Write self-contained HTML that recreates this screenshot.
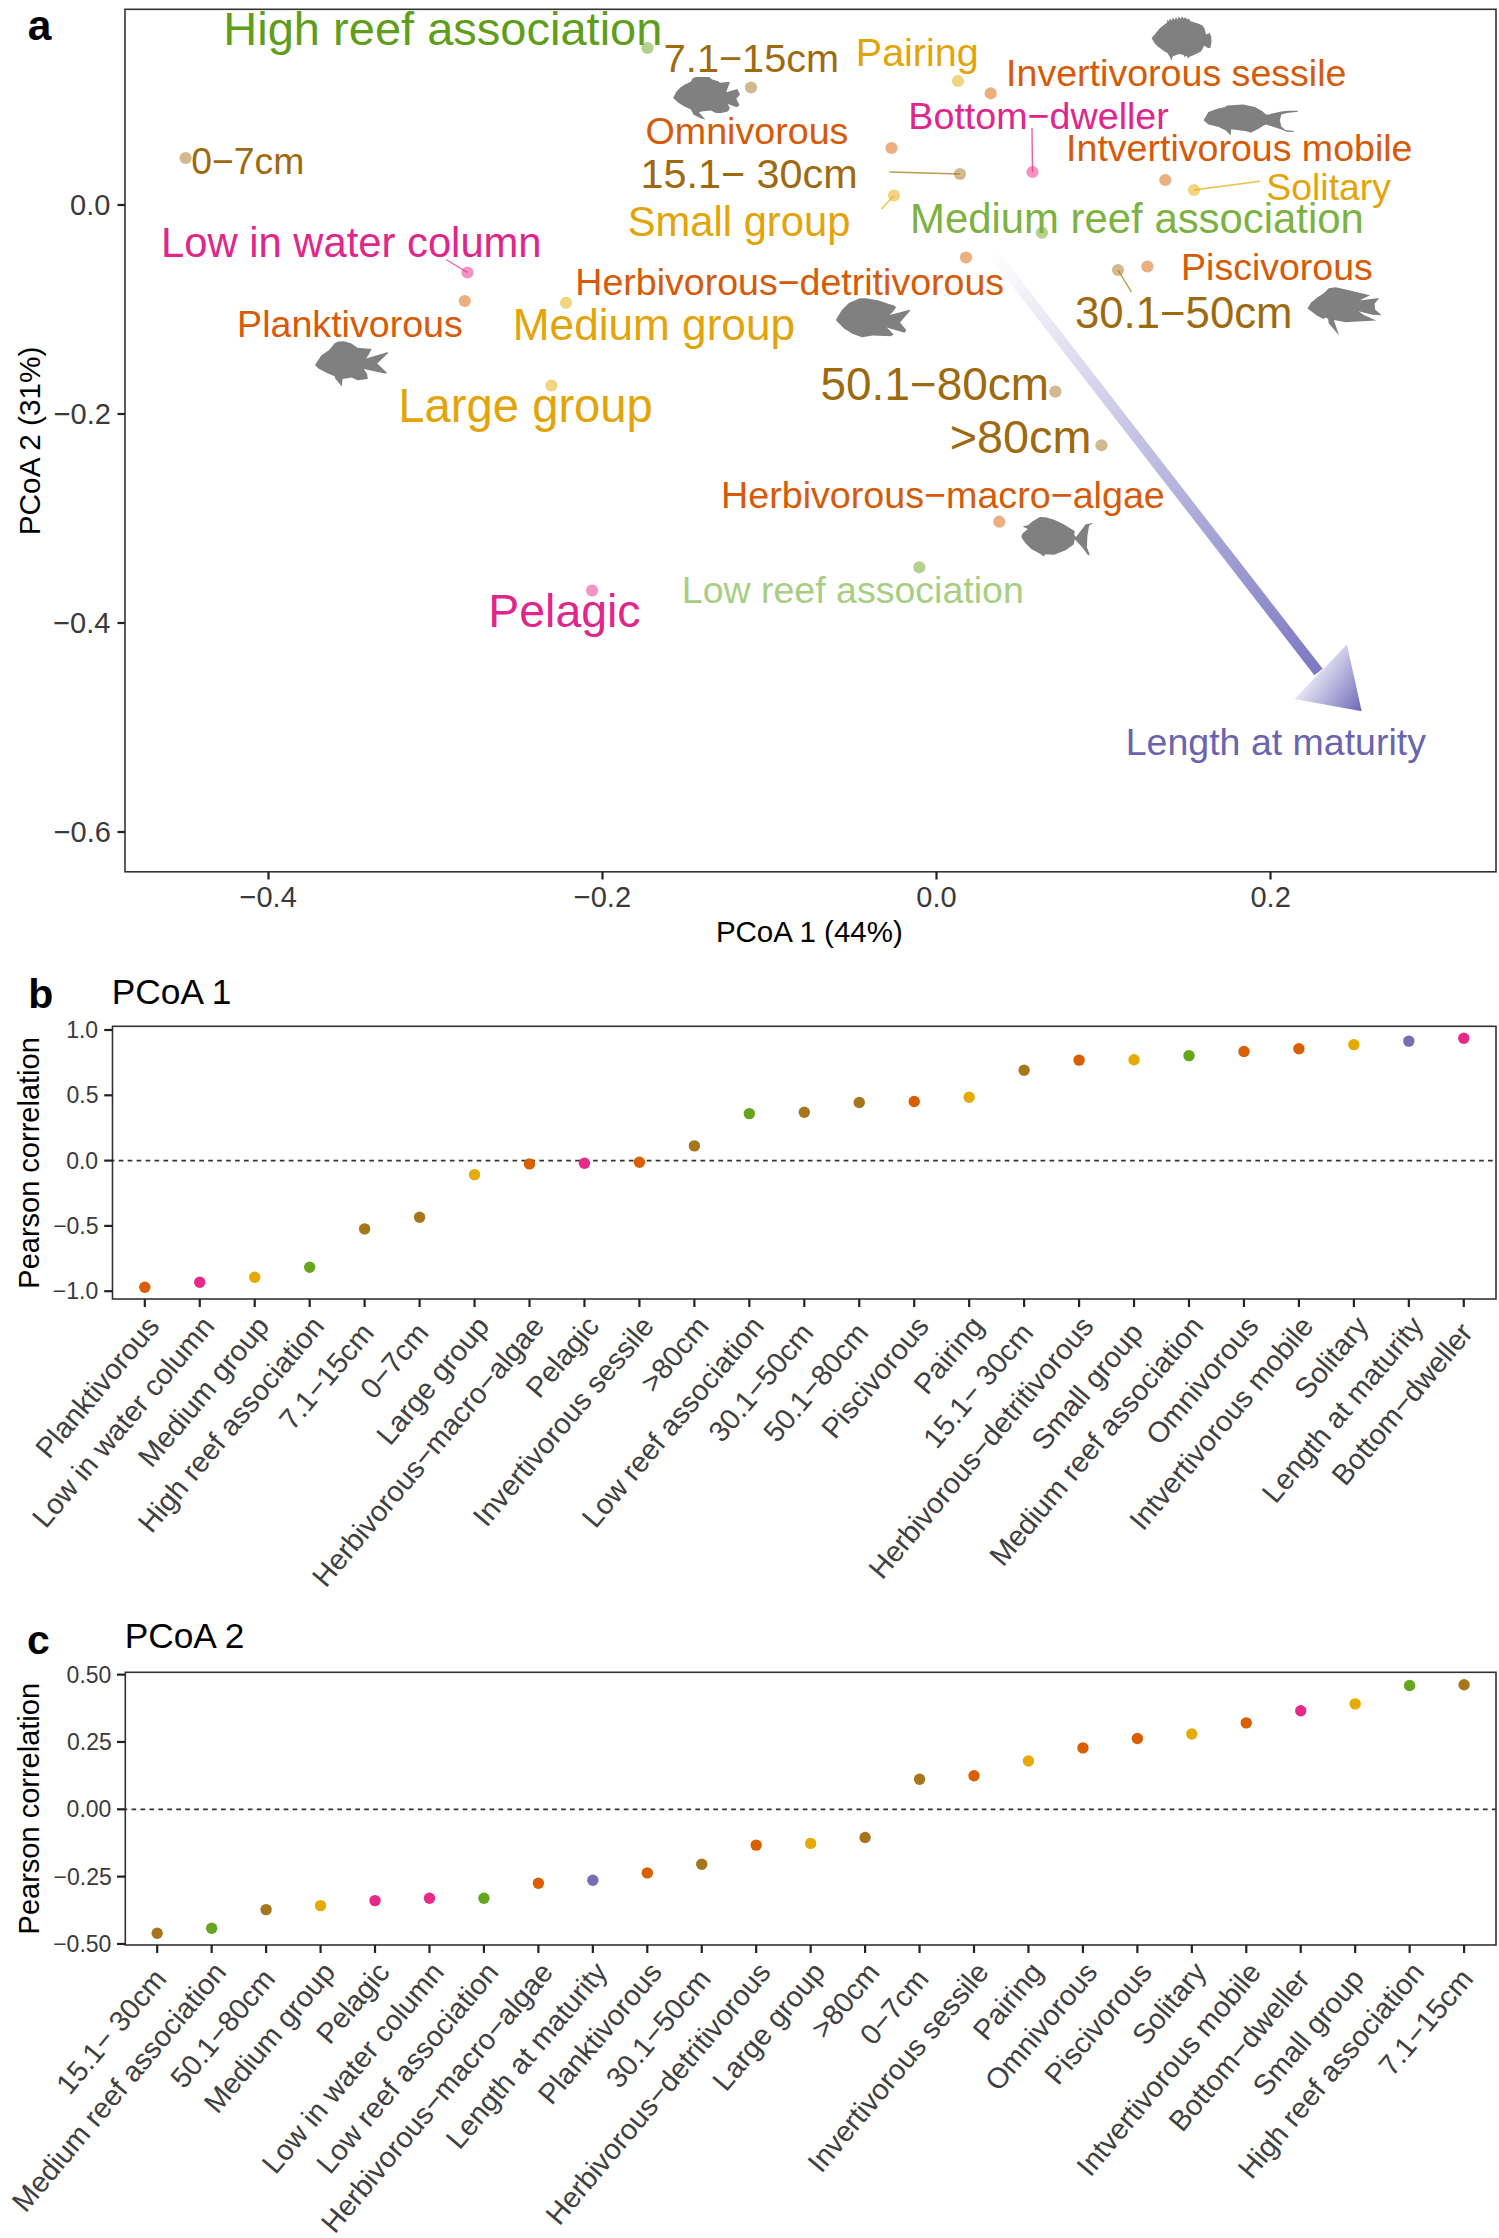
<!DOCTYPE html><html><head><meta charset="utf-8"><style>html,body{margin:0;padding:0;background:#fff;overflow:hidden;}svg{display:block;}text{font-family:"Liberation Sans",sans-serif;}</style></head><body>
<svg width="1499" height="2238" viewBox="0 0 1499 2238">
<rect width="1499" height="2238" fill="#fff"/>
<defs><linearGradient id="shaft" gradientUnits="userSpaceOnUse" x1="992.5" y1="252" x2="1318.5" y2="672"><stop offset="0" stop-color="#7D78C2" stop-opacity="0"/><stop offset="1" stop-color="#7D78C2"/></linearGradient><linearGradient id="head" gradientUnits="userSpaceOnUse" x1="1305" y1="671" x2="1362" y2="711"><stop offset="0" stop-color="#F6F5FB"/><stop offset="1" stop-color="#6C67B8"/></linearGradient></defs>
<rect x="125" y="9.3" width="1371" height="862.5" fill="none" stroke="#333" stroke-width="1.6"/>
<line x1="117.5" y1="205" x2="125" y2="205" stroke="#222" stroke-width="2.2"/>
<text x="70.11" y="215.2" font-size="29" fill="#3a3a3a">0.0</text>
<line x1="117.5" y1="414" x2="125" y2="414" stroke="#222" stroke-width="2.2"/>
<text x="53.63" y="424.2" font-size="29" fill="#3a3a3a">−0.2</text>
<line x1="117.5" y1="623" x2="125" y2="623" stroke="#222" stroke-width="2.2"/>
<text x="53.17" y="633.2" font-size="29" fill="#3a3a3a">−0.4</text>
<line x1="117.5" y1="832" x2="125" y2="832" stroke="#222" stroke-width="2.2"/>
<text x="53.63" y="842.2" font-size="29" fill="#3a3a3a">−0.6</text>
<line x1="268.5" y1="871.8" x2="268.5" y2="879.5" stroke="#222" stroke-width="2.2"/>
<text x="239.56" y="906.6" font-size="29" fill="#3a3a3a">−0.4</text>
<line x1="602.5" y1="871.8" x2="602.5" y2="879.5" stroke="#222" stroke-width="2.2"/>
<text x="573.78" y="906.6" font-size="29" fill="#3a3a3a">−0.2</text>
<line x1="936.5" y1="871.8" x2="936.5" y2="879.5" stroke="#222" stroke-width="2.2"/>
<text x="916.25" y="906.6" font-size="29" fill="#3a3a3a">0.0</text>
<line x1="1270.5" y1="871.8" x2="1270.5" y2="879.5" stroke="#222" stroke-width="2.2"/>
<text x="1250.48" y="906.6" font-size="29" fill="#3a3a3a">0.2</text>
<text x="715.9" y="942" font-size="29.5" fill="#000">PCoA 1 (44%)</text>
<text transform="translate(39.8,535.33) rotate(-90)" font-size="29.8" fill="#000">PCoA 2 (31%)</text>
<text x="27.64" y="39.6" font-size="42.5" fill="#000" font-weight="bold">a</text>
<line x1="992.5" y1="252" x2="1318.5" y2="672" stroke="url(#shaft)" stroke-width="10.5"/>
<polygon points="1346.9,644.4 1294.4,698.9 1361.7,711.3" fill="url(#head)"/>
<line x1="889.5" y1="172" x2="960" y2="174" stroke="#A6761D" stroke-width="1.4" stroke-opacity="0.75"/>
<line x1="894" y1="195.5" x2="881.5" y2="209" stroke="#E6AB02" stroke-width="1.4" stroke-opacity="0.75"/>
<line x1="1032.5" y1="172" x2="1032" y2="128" stroke="#E7298A" stroke-width="1.4" stroke-opacity="0.75"/>
<line x1="1194" y1="190" x2="1260" y2="181.3" stroke="#E6AB02" stroke-width="1.4" stroke-opacity="0.75"/>
<line x1="467.5" y1="272.5" x2="446" y2="259.5" stroke="#E7298A" stroke-width="1.4" stroke-opacity="0.75"/>
<line x1="1118" y1="270" x2="1131.4" y2="291.9" stroke="#A6761D" stroke-width="1.4" stroke-opacity="0.75"/>
<circle cx="647.5" cy="48" r="6.1" fill="#66A61E" fill-opacity="0.5"/>
<circle cx="751" cy="87.5" r="6.1" fill="#A6761D" fill-opacity="0.5"/>
<circle cx="958" cy="81" r="6.1" fill="#E6AB02" fill-opacity="0.5"/>
<circle cx="990.7" cy="93.3" r="6.1" fill="#D95F02" fill-opacity="0.5"/>
<circle cx="891.5" cy="148" r="6.1" fill="#D95F02" fill-opacity="0.5"/>
<circle cx="960" cy="174" r="6.1" fill="#A6761D" fill-opacity="0.5"/>
<circle cx="894" cy="195.5" r="6.1" fill="#E6AB02" fill-opacity="0.5"/>
<circle cx="1032.5" cy="172" r="6.1" fill="#E7298A" fill-opacity="0.5"/>
<circle cx="1165.3" cy="180" r="6.1" fill="#D95F02" fill-opacity="0.5"/>
<circle cx="1194" cy="190" r="6.1" fill="#E6AB02" fill-opacity="0.5"/>
<circle cx="1042" cy="232.7" r="6.1" fill="#66A61E" fill-opacity="0.5"/>
<circle cx="185.6" cy="158" r="6.1" fill="#A6761D" fill-opacity="0.5"/>
<circle cx="467.5" cy="272.5" r="6.1" fill="#E7298A" fill-opacity="0.5"/>
<circle cx="464.8" cy="301" r="6.1" fill="#D95F02" fill-opacity="0.5"/>
<circle cx="566" cy="302.8" r="6.1" fill="#E6AB02" fill-opacity="0.5"/>
<circle cx="966" cy="257.5" r="6.1" fill="#D95F02" fill-opacity="0.5"/>
<circle cx="551.5" cy="385.5" r="6.1" fill="#E6AB02" fill-opacity="0.5"/>
<circle cx="1118" cy="270" r="6.1" fill="#A6761D" fill-opacity="0.5"/>
<circle cx="1147.4" cy="266.5" r="6.1" fill="#D95F02" fill-opacity="0.5"/>
<circle cx="1055.4" cy="391.6" r="6.1" fill="#A6761D" fill-opacity="0.5"/>
<circle cx="1101.5" cy="445.3" r="6.1" fill="#A6761D" fill-opacity="0.5"/>
<circle cx="999.3" cy="521.7" r="6.1" fill="#D95F02" fill-opacity="0.5"/>
<circle cx="919.3" cy="567.3" r="6.1" fill="#66A61E" fill-opacity="0.5"/>
<circle cx="592.1" cy="590.5" r="6.1" fill="#E7298A" fill-opacity="0.5"/>
<path d="M673.1,98.1 L676,92.3 L680.3,87.5 L684.5,84.8 L691,81.6 L692.5,78.4 L695.7,77.1 L709.1,77.1 L712.3,79.5 L717.6,81.1 L720.3,82.7 L726.7,82.1 L729.9,81.9 L726.2,92.3 L737.4,89.1 L740,94.4 L736.3,98.7 L739.5,105.1 L736.8,107.2 L727.8,104 L729.9,108.3 L727.8,111.5 L721.4,113.1 L716,113.1 L710.7,110.4 L701.1,111.5 L699,112.6 L705.4,119.5 L701.1,118.4 L693.6,114.7 L690.9,109.4 L684,106.2 L678.7,103Z" fill="#808080"/>
<path d="M1151.6,38.3 L1155,34 L1159.6,28.6 L1163.5,25.2 L1166.9,22.7 L1167.5,19.5 L1168.8,21.6 L1170,18.2 L1171.5,20.8 L1173,17.5 L1174.5,20 L1176,17.2 L1177.5,19.5 L1179,16.6 L1180.5,19 L1182,16.3 L1183.5,18.5 L1185.5,17.3 L1187,19.6 L1188.8,18.5 L1190.5,21.2 L1194,22.2 L1198.6,23.7 L1202.5,25.6 L1204.5,28.5 L1205.4,31.5 L1205.9,34.4 L1209.8,33 L1211.2,36.4 L1211.5,42.2 L1210.3,48 L1207.8,48 L1204.4,45.6 L1201,51.5 L1196.1,53.9 L1192.2,55.8 L1190,56.5 L1187.9,58.3 L1186.5,55.6 L1184.9,57.2 L1183.5,54.9 L1179.1,53.9 L1172.8,56.3 L1171.3,60.7 L1170.2,57.5 L1167.4,52.9 L1164,51 L1161.1,49 L1157.5,46.2 L1154.7,43.2Z" fill="#808080"/>
<path d="M1203.6,120.2 L1208.4,111.9 L1217.4,108.8 L1225.1,107 L1227.1,105.6 L1243.1,104.6 L1254.9,107 L1262.5,111.2 L1265.3,114 L1267.4,114.7 L1281.3,111.5 L1288.2,110.8 L1297.9,110.8 L1297.9,111.8 L1287,113 L1281.3,114.5 L1279.9,120.2 L1281.3,126.5 L1285.4,129.9 L1293.8,131 L1293.8,132 L1286.8,131.8 L1281.3,129.6 L1266,124.4 L1263.2,125.8 L1259.1,128.5 L1250.7,132.7 L1246.6,131.3 L1231.3,129.2 L1230.6,135.5 L1225.8,130.6 L1218.8,127.1 L1208.4,124.4Z" fill="#808080"/>
<path d="M315,365.1 L321.2,355.6 L329.1,350 L334.7,343.3 L338,341.6 L343.6,341.3 L350.9,343.3 L357.6,347.8 L371.6,348.9 L368.8,354.5 L366,358.4 L387.3,352.3 L388.5,352.8 L377.2,363.5 L387.3,373 L384.5,373.5 L363.8,369.1 L367.2,374.1 L367.7,379.1 L357.6,380.3 L351.5,377.5 L342.5,379.1 L341.9,386.4 L335.2,378.6 L334.7,376.3 L326.8,373 L318.4,368.5Z" fill="#808080"/>
<path d="M836.3,319 L841.5,310.4 L848.9,302.9 L859.8,298.3 L865.6,298.3 L878.8,300.6 L887.4,303.5 L894.8,305.8 L896,307.5 L893.1,311.5 L889.7,315 L909.8,309.8 L910.3,310.4 L900,322.4 L906.3,329.9 L904.6,332.7 L886.8,327.6 L893.7,334.5 L890.8,336.2 L873,335.6 L862.1,337.3 L852.9,333.9 L844.3,328.7 L836.3,320.7Z" fill="#808080"/>
<path d="M1307.5,308.4 L1310.9,302.7 L1317.2,297.5 L1324.1,292.9 L1328.7,288.3 L1335.6,287.2 L1345.9,289.5 L1357.4,292.3 L1370,295.2 L1359.7,300.4 L1368.8,299.2 L1379.2,298.1 L1374.6,303.8 L1375.2,309.5 L1381.5,315.3 L1372.3,314.7 L1358.5,311.3 L1364.3,315.3 L1376.3,320.4 L1357.4,321.6 L1345.9,322.2 L1333.9,319.9 L1339,335.4 L1328.7,323.3 L1328.1,318.7 L1324.7,317.6 L1324.1,319.3 L1317.2,315.8Z" fill="#808080"/>
<path d="M1021.5,537.5 L1022,534.1 L1027.8,528.9 L1022.6,526.6 L1027.8,525.2 L1032.4,521.5 L1039.8,516.9 L1045.6,517.2 L1054.2,519.8 L1062.8,523.8 L1071.4,528.9 L1074.8,531.2 L1074.2,534.7 L1076,537 L1085.7,524.3 L1093.7,522.9 L1089.2,525.5 L1087.4,535.8 L1086.9,547.3 L1089.7,554.8 L1088,555.3 L1082.8,547.9 L1074.8,539.3 L1073.7,544.4 L1065.6,550.2 L1054.2,554.8 L1045.6,554.2 L1043.3,556.5 L1041,554.2 L1031.2,549 L1025.5,543.3Z" fill="#808080"/>
<text x="223.33" y="44.7" font-size="47.02" fill="#5E9E1A">High reef association</text>
<text x="663.84" y="72" font-size="39.65" fill="#9E6A10">7.1−15cm</text>
<text x="855.82" y="65.5" font-size="39.48" fill="#E3A40A">Pairing</text>
<text x="1006.06" y="86.3" font-size="37.58" fill="#D65A08">Invertivorous sessile</text>
<text x="908.36" y="129.3" font-size="37.65" fill="#E0268A">Bottom−dweller</text>
<text x="645.54" y="144.4" font-size="37.65" fill="#D65A08">Omnivorous</text>
<text x="1066.07" y="161" font-size="37.55" fill="#D65A08">Intvertivorous mobile</text>
<text x="191.23" y="174" font-size="37.37" fill="#9E6A10">0−7cm</text>
<text x="640.41" y="188.3" font-size="41.39" fill="#9E6A10">15.1− 30cm</text>
<text x="1266.33" y="200" font-size="37.39" fill="#E3A40A">Solitary</text>
<text x="627.7" y="235.8" font-size="41.74" fill="#E3A40A">Small group</text>
<text x="910.03" y="233.3" font-size="41.89" fill="#7DB242">Medium reef association</text>
<text x="161.04" y="257.3" font-size="41.76" fill="#E0268A">Low in water column</text>
<text x="575.37" y="294.7" font-size="37.54" fill="#D65A08">Herbivorous−detritivorous</text>
<text x="1181.07" y="280.3" font-size="37.51" fill="#D65A08">Piscivorous</text>
<text x="237.06" y="337.3" font-size="37.62" fill="#D65A08">Planktivorous</text>
<text x="512.85" y="339.5" font-size="44.15" fill="#E3A40A">Medium group</text>
<text x="1074.93" y="328.3" font-size="43.74" fill="#9E6A10">30.1−50cm</text>
<text x="820.57" y="399.6" font-size="45.91" fill="#9E6A10">50.1−80cm</text>
<text x="398.31" y="421.7" font-size="47.21" fill="#E3A40A">Large group</text>
<text x="949.81" y="452.8" font-size="46.75" fill="#9E6A10">&gt;80cm</text>
<text x="721.06" y="508" font-size="37.66" fill="#D65A08">Herbivorous−macro−algae</text>
<text x="681.77" y="603.3" font-size="37.52" fill="#A8CE84">Low reef association</text>
<text x="488.27" y="627.1" font-size="46.45" fill="#E0268A">Pelagic</text>
<text x="1125.77" y="754.7" font-size="37.51" fill="#6A63B0">Length at maturity</text>
<rect x="112.5" y="1026.3" width="1383.5" height="272.7" fill="none" stroke="#333" stroke-width="1.6"/>
<line x1="112.5" y1="1160.6" x2="1496" y2="1160.6" stroke="#333" stroke-width="1.7" stroke-dasharray="4.7 4.25" stroke-dashoffset="2.75"/>
<line x1="104.2" y1="1030" x2="112.5" y2="1030" stroke="#222" stroke-width="2.2"/>
<text x="66.2" y="1037.9" font-size="23" fill="#3a3a3a">1.0</text>
<line x1="104.2" y1="1095.3" x2="112.5" y2="1095.3" stroke="#222" stroke-width="2.2"/>
<text x="66.56" y="1103.2" font-size="23" fill="#3a3a3a">0.5</text>
<line x1="104.2" y1="1160.6" x2="112.5" y2="1160.6" stroke="#222" stroke-width="2.2"/>
<text x="66.2" y="1168.5" font-size="23" fill="#3a3a3a">0.0</text>
<line x1="104.2" y1="1225.9" x2="112.5" y2="1225.9" stroke="#222" stroke-width="2.2"/>
<text x="53.13" y="1233.8" font-size="23" fill="#3a3a3a">−0.5</text>
<line x1="104.2" y1="1291.2" x2="112.5" y2="1291.2" stroke="#222" stroke-width="2.2"/>
<text x="52.77" y="1299.1" font-size="23" fill="#3a3a3a">−1.0</text>
<text transform="translate(39.3,1288.7) rotate(-90)" font-size="29" fill="#000">Pearson correlation</text>
<text x="28.24" y="1007.7" font-size="41" fill="#000" font-weight="bold">b</text>
<text x="111.74" y="1003.6" font-size="35.3" fill="#000">PCoA 1</text>
<line x1="144.8" y1="1299" x2="144.8" y2="1307" stroke="#222" stroke-width="2.2"/>
<circle cx="144.8" cy="1287.3" r="5.7" fill="#D95F02"/>
<text transform="translate(160.8,1327) rotate(-50)" font-size="29" fill="#404040" text-anchor="end">Planktivorous</text>
<line x1="199.76" y1="1299" x2="199.76" y2="1307" stroke="#222" stroke-width="2.2"/>
<circle cx="199.76" cy="1282.3" r="5.7" fill="#E7298A"/>
<text transform="translate(215.76,1327) rotate(-50)" font-size="29" fill="#404040" text-anchor="end">Low in water column</text>
<line x1="254.72" y1="1299" x2="254.72" y2="1307" stroke="#222" stroke-width="2.2"/>
<circle cx="254.72" cy="1277.3" r="5.7" fill="#E6AB02"/>
<text transform="translate(270.72,1327) rotate(-50)" font-size="29" fill="#404040" text-anchor="end">Medium group</text>
<line x1="309.67" y1="1299" x2="309.67" y2="1307" stroke="#222" stroke-width="2.2"/>
<circle cx="309.67" cy="1267.3" r="5.7" fill="#66A61E"/>
<text transform="translate(325.67,1327) rotate(-50)" font-size="29" fill="#404040" text-anchor="end">High reef association</text>
<line x1="364.63" y1="1299" x2="364.63" y2="1307" stroke="#222" stroke-width="2.2"/>
<circle cx="364.63" cy="1228.8999999999999" r="5.7" fill="#A6761D"/>
<text transform="translate(375.17,1333.51) rotate(-50)" font-size="29" fill="#404040" text-anchor="end">7.1−15cm</text>
<line x1="419.59" y1="1299" x2="419.59" y2="1307" stroke="#222" stroke-width="2.2"/>
<circle cx="419.59" cy="1217.3" r="5.7" fill="#A6761D"/>
<text transform="translate(430.13,1333.51) rotate(-50)" font-size="29" fill="#404040" text-anchor="end">0−7cm</text>
<line x1="474.55" y1="1299" x2="474.55" y2="1307" stroke="#222" stroke-width="2.2"/>
<circle cx="474.55" cy="1174.6" r="5.7" fill="#E6AB02"/>
<text transform="translate(490.55,1327) rotate(-50)" font-size="29" fill="#404040" text-anchor="end">Large group</text>
<line x1="529.51" y1="1299" x2="529.51" y2="1307" stroke="#222" stroke-width="2.2"/>
<circle cx="529.51" cy="1163.8999999999999" r="5.7" fill="#D95F02"/>
<text transform="translate(545.51,1327) rotate(-50)" font-size="29" fill="#404040" text-anchor="end">Herbivorous−macro−algae</text>
<line x1="584.46" y1="1299" x2="584.46" y2="1307" stroke="#222" stroke-width="2.2"/>
<circle cx="584.46" cy="1163.1999999999998" r="5.7" fill="#E7298A"/>
<text transform="translate(600.46,1327) rotate(-50)" font-size="29" fill="#404040" text-anchor="end">Pelagic</text>
<line x1="639.42" y1="1299" x2="639.42" y2="1307" stroke="#222" stroke-width="2.2"/>
<circle cx="639.42" cy="1162.1999999999998" r="5.7" fill="#D95F02"/>
<text transform="translate(655.42,1327) rotate(-50)" font-size="29" fill="#404040" text-anchor="end">Invertivorous sessile</text>
<line x1="694.38" y1="1299" x2="694.38" y2="1307" stroke="#222" stroke-width="2.2"/>
<circle cx="694.38" cy="1145.8999999999999" r="5.7" fill="#A6761D"/>
<text transform="translate(710.38,1327) rotate(-50)" font-size="29" fill="#404040" text-anchor="end">&gt;80cm</text>
<line x1="749.34" y1="1299" x2="749.34" y2="1307" stroke="#222" stroke-width="2.2"/>
<circle cx="749.34" cy="1113.6" r="5.7" fill="#66A61E"/>
<text transform="translate(765.34,1327) rotate(-50)" font-size="29" fill="#404040" text-anchor="end">Low reef association</text>
<line x1="804.3" y1="1299" x2="804.3" y2="1307" stroke="#222" stroke-width="2.2"/>
<circle cx="804.3" cy="1112.1999999999998" r="5.7" fill="#A6761D"/>
<text transform="translate(814.83,1333.51) rotate(-50)" font-size="29" fill="#404040" text-anchor="end">30.1−50cm</text>
<line x1="859.25" y1="1299" x2="859.25" y2="1307" stroke="#222" stroke-width="2.2"/>
<circle cx="859.25" cy="1102.5" r="5.7" fill="#A6761D"/>
<text transform="translate(869.79,1333.51) rotate(-50)" font-size="29" fill="#404040" text-anchor="end">50.1−80cm</text>
<line x1="914.21" y1="1299" x2="914.21" y2="1307" stroke="#222" stroke-width="2.2"/>
<circle cx="914.21" cy="1101.5" r="5.7" fill="#D95F02"/>
<text transform="translate(930.21,1327) rotate(-50)" font-size="29" fill="#404040" text-anchor="end">Piscivorous</text>
<line x1="969.17" y1="1299" x2="969.17" y2="1307" stroke="#222" stroke-width="2.2"/>
<circle cx="969.17" cy="1097.3" r="5.7" fill="#E6AB02"/>
<text transform="translate(985.17,1327) rotate(-50)" font-size="29" fill="#404040" text-anchor="end">Pairing</text>
<line x1="1024.13" y1="1299" x2="1024.13" y2="1307" stroke="#222" stroke-width="2.2"/>
<circle cx="1024.13" cy="1070.1999999999998" r="5.7" fill="#A6761D"/>
<text transform="translate(1034.66,1333.51) rotate(-50)" font-size="29" fill="#404040" text-anchor="end">15.1− 30cm</text>
<line x1="1079.09" y1="1299" x2="1079.09" y2="1307" stroke="#222" stroke-width="2.2"/>
<circle cx="1079.09" cy="1060.1" r="5.7" fill="#D95F02"/>
<text transform="translate(1095.09,1327) rotate(-50)" font-size="29" fill="#404040" text-anchor="end">Herbivorous−detritivorous</text>
<line x1="1134.04" y1="1299" x2="1134.04" y2="1307" stroke="#222" stroke-width="2.2"/>
<circle cx="1134.04" cy="1059.8" r="5.7" fill="#E6AB02"/>
<text transform="translate(1144.58,1333.51) rotate(-50)" font-size="29" fill="#404040" text-anchor="end">Small group</text>
<line x1="1189" y1="1299" x2="1189" y2="1307" stroke="#222" stroke-width="2.2"/>
<circle cx="1189" cy="1055.6" r="5.7" fill="#66A61E"/>
<text transform="translate(1205,1327) rotate(-50)" font-size="29" fill="#404040" text-anchor="end">Medium reef association</text>
<line x1="1243.96" y1="1299" x2="1243.96" y2="1307" stroke="#222" stroke-width="2.2"/>
<circle cx="1243.96" cy="1051.5" r="5.7" fill="#D95F02"/>
<text transform="translate(1259.96,1327) rotate(-50)" font-size="29" fill="#404040" text-anchor="end">Omnivorous</text>
<line x1="1298.92" y1="1299" x2="1298.92" y2="1307" stroke="#222" stroke-width="2.2"/>
<circle cx="1298.92" cy="1048.6999999999998" r="5.7" fill="#D95F02"/>
<text transform="translate(1314.92,1327) rotate(-50)" font-size="29" fill="#404040" text-anchor="end">Intvertivorous mobile</text>
<line x1="1353.88" y1="1299" x2="1353.88" y2="1307" stroke="#222" stroke-width="2.2"/>
<circle cx="1353.88" cy="1044.6" r="5.7" fill="#E6AB02"/>
<text transform="translate(1369.88,1327) rotate(-50)" font-size="29" fill="#404040" text-anchor="end">Solitary</text>
<line x1="1408.83" y1="1299" x2="1408.83" y2="1307" stroke="#222" stroke-width="2.2"/>
<circle cx="1408.83" cy="1041.1" r="5.7" fill="#7570B3"/>
<text transform="translate(1424.83,1327) rotate(-50)" font-size="29" fill="#404040" text-anchor="end">Length at maturity</text>
<line x1="1463.79" y1="1299" x2="1463.79" y2="1307" stroke="#222" stroke-width="2.2"/>
<circle cx="1463.79" cy="1038.3" r="5.7" fill="#E7298A"/>
<text transform="translate(1474.33,1333.51) rotate(-50)" font-size="29" fill="#404040" text-anchor="end">Bottom−dweller</text>
<rect x="125.3" y="1672.3" width="1370.7" height="272.7" fill="none" stroke="#333" stroke-width="1.6"/>
<line x1="125.3" y1="1809.3" x2="1496" y2="1809.3" stroke="#333" stroke-width="1.7" stroke-dasharray="4.7 4.25" stroke-dashoffset="2.75"/>
<line x1="117" y1="1674.65" x2="125.3" y2="1674.65" stroke="#222" stroke-width="2.2"/>
<text x="66.61" y="1682.55" font-size="23" fill="#3a3a3a">0.50</text>
<line x1="117" y1="1741.97" x2="125.3" y2="1741.97" stroke="#222" stroke-width="2.2"/>
<text x="66.97" y="1749.88" font-size="23" fill="#3a3a3a">0.25</text>
<line x1="117" y1="1809.3" x2="125.3" y2="1809.3" stroke="#222" stroke-width="2.2"/>
<text x="66.61" y="1817.2" font-size="23" fill="#3a3a3a">0.00</text>
<line x1="117" y1="1876.62" x2="125.3" y2="1876.62" stroke="#222" stroke-width="2.2"/>
<text x="53.54" y="1884.53" font-size="23" fill="#3a3a3a">−0.25</text>
<line x1="117" y1="1943.95" x2="125.3" y2="1943.95" stroke="#222" stroke-width="2.2"/>
<text x="53.18" y="1951.85" font-size="23" fill="#3a3a3a">−0.50</text>
<text transform="translate(39.3,1934.4) rotate(-90)" font-size="29" fill="#000">Pearson correlation</text>
<text x="27.02" y="1654.1" font-size="41" fill="#000" font-weight="bold">c</text>
<text x="124.64" y="1648.4" font-size="35.3" fill="#000">PCoA 2</text>
<line x1="157.2" y1="1945" x2="157.2" y2="1953" stroke="#222" stroke-width="2.2"/>
<circle cx="157.2" cy="1933.3" r="5.7" fill="#A6761D"/>
<text transform="translate(167.74,1979.51) rotate(-50)" font-size="29" fill="#404040" text-anchor="end">15.1− 30cm</text>
<line x1="211.65" y1="1945" x2="211.65" y2="1953" stroke="#222" stroke-width="2.2"/>
<circle cx="211.65" cy="1928.3" r="5.7" fill="#66A61E"/>
<text transform="translate(227.65,1973) rotate(-50)" font-size="29" fill="#404040" text-anchor="end">Medium reef association</text>
<line x1="266.11" y1="1945" x2="266.11" y2="1953" stroke="#222" stroke-width="2.2"/>
<circle cx="266.11" cy="1909.6" r="5.7" fill="#A6761D"/>
<text transform="translate(276.64,1979.51) rotate(-50)" font-size="29" fill="#404040" text-anchor="end">50.1−80cm</text>
<line x1="320.56" y1="1945" x2="320.56" y2="1953" stroke="#222" stroke-width="2.2"/>
<circle cx="320.56" cy="1905.6" r="5.7" fill="#E6AB02"/>
<text transform="translate(336.56,1973) rotate(-50)" font-size="29" fill="#404040" text-anchor="end">Medium group</text>
<line x1="375.02" y1="1945" x2="375.02" y2="1953" stroke="#222" stroke-width="2.2"/>
<circle cx="375.02" cy="1900.6" r="5.7" fill="#E7298A"/>
<text transform="translate(391.02,1973) rotate(-50)" font-size="29" fill="#404040" text-anchor="end">Pelagic</text>
<line x1="429.47" y1="1945" x2="429.47" y2="1953" stroke="#222" stroke-width="2.2"/>
<circle cx="429.47" cy="1898.3" r="5.7" fill="#E7298A"/>
<text transform="translate(445.47,1973) rotate(-50)" font-size="29" fill="#404040" text-anchor="end">Low in water column</text>
<line x1="483.92" y1="1945" x2="483.92" y2="1953" stroke="#222" stroke-width="2.2"/>
<circle cx="483.92" cy="1898.1999999999998" r="5.7" fill="#66A61E"/>
<text transform="translate(499.92,1973) rotate(-50)" font-size="29" fill="#404040" text-anchor="end">Low reef association</text>
<line x1="538.38" y1="1945" x2="538.38" y2="1953" stroke="#222" stroke-width="2.2"/>
<circle cx="538.38" cy="1883.3" r="5.7" fill="#D95F02"/>
<text transform="translate(554.38,1973) rotate(-50)" font-size="29" fill="#404040" text-anchor="end">Herbivorous−macro−algae</text>
<line x1="592.83" y1="1945" x2="592.83" y2="1953" stroke="#222" stroke-width="2.2"/>
<circle cx="592.83" cy="1880.1999999999998" r="5.7" fill="#7570B3"/>
<text transform="translate(608.83,1973) rotate(-50)" font-size="29" fill="#404040" text-anchor="end">Length at maturity</text>
<line x1="647.29" y1="1945" x2="647.29" y2="1953" stroke="#222" stroke-width="2.2"/>
<circle cx="647.29" cy="1872.8999999999999" r="5.7" fill="#D95F02"/>
<text transform="translate(663.29,1973) rotate(-50)" font-size="29" fill="#404040" text-anchor="end">Planktivorous</text>
<line x1="701.74" y1="1945" x2="701.74" y2="1953" stroke="#222" stroke-width="2.2"/>
<circle cx="701.74" cy="1864.1999999999998" r="5.7" fill="#A6761D"/>
<text transform="translate(712.28,1979.51) rotate(-50)" font-size="29" fill="#404040" text-anchor="end">30.1−50cm</text>
<line x1="756.19" y1="1945" x2="756.19" y2="1953" stroke="#222" stroke-width="2.2"/>
<circle cx="756.19" cy="1845.1" r="5.7" fill="#D95F02"/>
<text transform="translate(772.19,1973) rotate(-50)" font-size="29" fill="#404040" text-anchor="end">Herbivorous−detritivorous</text>
<line x1="810.65" y1="1945" x2="810.65" y2="1953" stroke="#222" stroke-width="2.2"/>
<circle cx="810.65" cy="1843.3999999999999" r="5.7" fill="#E6AB02"/>
<text transform="translate(826.65,1973) rotate(-50)" font-size="29" fill="#404040" text-anchor="end">Large group</text>
<line x1="865.1" y1="1945" x2="865.1" y2="1953" stroke="#222" stroke-width="2.2"/>
<circle cx="865.1" cy="1837.5" r="5.7" fill="#A6761D"/>
<text transform="translate(881.1,1973) rotate(-50)" font-size="29" fill="#404040" text-anchor="end">&gt;80cm</text>
<line x1="919.56" y1="1945" x2="919.56" y2="1953" stroke="#222" stroke-width="2.2"/>
<circle cx="919.56" cy="1779.1999999999998" r="5.7" fill="#A6761D"/>
<text transform="translate(930.09,1979.51) rotate(-50)" font-size="29" fill="#404040" text-anchor="end">0−7cm</text>
<line x1="974.01" y1="1945" x2="974.01" y2="1953" stroke="#222" stroke-width="2.2"/>
<circle cx="974.01" cy="1775.8" r="5.7" fill="#D95F02"/>
<text transform="translate(990.01,1973) rotate(-50)" font-size="29" fill="#404040" text-anchor="end">Invertivorous sessile</text>
<line x1="1028.46" y1="1945" x2="1028.46" y2="1953" stroke="#222" stroke-width="2.2"/>
<circle cx="1028.46" cy="1761.0" r="5.7" fill="#E6AB02"/>
<text transform="translate(1044.46,1973) rotate(-50)" font-size="29" fill="#404040" text-anchor="end">Pairing</text>
<line x1="1082.92" y1="1945" x2="1082.92" y2="1953" stroke="#222" stroke-width="2.2"/>
<circle cx="1082.92" cy="1747.8999999999999" r="5.7" fill="#D95F02"/>
<text transform="translate(1098.92,1973) rotate(-50)" font-size="29" fill="#404040" text-anchor="end">Omnivorous</text>
<line x1="1137.37" y1="1945" x2="1137.37" y2="1953" stroke="#222" stroke-width="2.2"/>
<circle cx="1137.37" cy="1738.5" r="5.7" fill="#D95F02"/>
<text transform="translate(1153.37,1973) rotate(-50)" font-size="29" fill="#404040" text-anchor="end">Piscivorous</text>
<line x1="1191.83" y1="1945" x2="1191.83" y2="1953" stroke="#222" stroke-width="2.2"/>
<circle cx="1191.83" cy="1734.0" r="5.7" fill="#E6AB02"/>
<text transform="translate(1207.83,1973) rotate(-50)" font-size="29" fill="#404040" text-anchor="end">Solitary</text>
<line x1="1246.28" y1="1945" x2="1246.28" y2="1953" stroke="#222" stroke-width="2.2"/>
<circle cx="1246.28" cy="1722.8999999999999" r="5.7" fill="#D95F02"/>
<text transform="translate(1262.28,1973) rotate(-50)" font-size="29" fill="#404040" text-anchor="end">Intvertivorous mobile</text>
<line x1="1300.73" y1="1945" x2="1300.73" y2="1953" stroke="#222" stroke-width="2.2"/>
<circle cx="1300.73" cy="1710.8" r="5.7" fill="#E7298A"/>
<text transform="translate(1311.27,1979.51) rotate(-50)" font-size="29" fill="#404040" text-anchor="end">Bottom−dweller</text>
<line x1="1355.19" y1="1945" x2="1355.19" y2="1953" stroke="#222" stroke-width="2.2"/>
<circle cx="1355.19" cy="1703.8999999999999" r="5.7" fill="#E6AB02"/>
<text transform="translate(1365.72,1979.51) rotate(-50)" font-size="29" fill="#404040" text-anchor="end">Small group</text>
<line x1="1409.64" y1="1945" x2="1409.64" y2="1953" stroke="#222" stroke-width="2.2"/>
<circle cx="1409.64" cy="1685.5" r="5.7" fill="#66A61E"/>
<text transform="translate(1425.64,1973) rotate(-50)" font-size="29" fill="#404040" text-anchor="end">High reef association</text>
<line x1="1464.1" y1="1945" x2="1464.1" y2="1953" stroke="#222" stroke-width="2.2"/>
<circle cx="1464.1" cy="1684.8" r="5.7" fill="#A6761D"/>
<text transform="translate(1474.63,1979.51) rotate(-50)" font-size="29" fill="#404040" text-anchor="end">7.1−15cm</text>
</svg></body></html>
